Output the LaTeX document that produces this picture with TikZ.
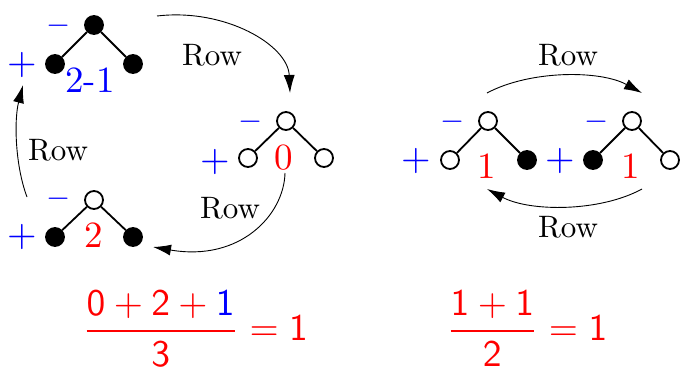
\RequirePackage{fix-cm}
\documentclass[tikz,border=0pt]{standalone}
\usetikzlibrary{arrows.meta}
\newcommand{\sbx}[2]{\scalebox{#1}{\fontsize{10}{12}\selectfont #2}}
\begin{document}
\begin{tikzpicture}[x=1pt,y=-1pt,
  vb/.style={circle,draw,fill=black,line width=1.8pt,minimum size=18pt,inner sep=0pt},
  vw/.style={circle,draw,fill=white,line width=1.8pt,minimum size=18pt,inner sep=0pt},
  edge/.style={line width=1.8pt},
  arr/.style={line width=0.9pt,-{Latex[length=18pt,width=11pt]}},
  rowlab/.style={inner sep=0pt},
  pl/.style={text=blue,inner sep=0pt},
  mi/.style={text=blue,inner sep=0pt},
  num/.style={inner sep=0pt},
  frac/.style={anchor=base west,inner sep=0pt,text=red},
]
\useasboundingbox (0,0) rectangle (681,367);

% Tree A
\node[vb] (a0) at (94,25) {};
\node[vb] (a1) at (55,64) {};
\node[vb] (a2) at (133,64) {};
\draw[edge] (a0) -- (a1);
\draw[edge] (a0) -- (a2);
\node[mi] (am) at (59,26) {\sbx{3.1}{$-$}};
\node[pl] (ap) at (22,65) {\sbx{3.8}{$+$}};
\node[num,text=blue] (av) at (90,80) {\sbx{3.7}{2-1}};

% Tree B
\node[vw] (b0) at (286,121) {};
\node[vw] (b1) at (248,158) {};
\node[vw] (b2) at (324,158) {};
\draw[edge] (b0) -- (b1);
\draw[edge] (b0) -- (b2);
\node[mi] (bm) at (251,122) {\sbx{3.1}{$-$}};
\node[pl] (bp) at (215,162) {\sbx{3.8}{$+$}};
\node[num,text=red] (bv) at (284,158) {\sbx{3.7}{0}};

% Tree C
\node[vw] (c0) at (94,200) {};
\node[vb] (c1) at (55,237) {};
\node[vb] (c2) at (133,237) {};
\draw[edge] (c0) -- (c1);
\draw[edge] (c0) -- (c2);
\node[mi] (cm) at (59,199) {\sbx{3.1}{$-$}};
\node[pl] (cp) at (22,237) {\sbx{3.8}{$+$}};
\node[num,text=red] (cv) at (94,235) {\sbx{3.7}{2}};

% Tree D
\node[vw] (d0) at (488,121) {};
\node[vw] (d1) at (450,160) {};
\node[vb] (d2) at (527,160) {};
\draw[edge] (d0) -- (d1);
\draw[edge] (d0) -- (d2);
\node[mi] (dm) at (453,122) {\sbx{3.1}{$-$}};
\node[pl] (dp) at (416,161) {\sbx{3.8}{$+$}};
\node[num,text=red] (dv) at (487,166) {\sbx{3.7}{1}};

% Tree E
\node[vw] (e0) at (632,121) {};
\node[vb] (e1) at (593,160) {};
\node[vw] (e2) at (670,160) {};
\draw[edge] (e0) -- (e1);
\draw[edge] (e0) -- (e2);
\node[mi] (em) at (597,122) {\sbx{3.1}{$-$}};
\node[pl] (ep) at (560,161) {\sbx{3.8}{$+$}};
\node[num,text=red] (ev) at (631,166) {\sbx{3.7}{1}};

% Arrows
\coordinate (s1) at (157,16);  \coordinate (t1) at (290,93);
\coordinate (s2) at (285,173); \coordinate (t2) at (153,247);
\coordinate (s3) at (27,197);  \coordinate (t3) at (23,85);
\coordinate (s4) at (487,93);  \coordinate (t4) at (642,93);
\coordinate (s5) at (642,189); \coordinate (t5) at (487,189);
\draw[arr] (s1) .. controls (225,8) and (288,45) .. (t1);
\draw[arr] (s2) .. controls (284,215) and (240,262) .. (t2);
\draw[arr] (s3) .. controls (15,165) and (14,120) .. (t3);
\draw[arr] (s4) .. controls (530,70) and (600,70) .. (t4);
\draw[arr] (s5) .. controls (600,212) and (530,212) .. (t5);
\node[rowlab] (r1) at (212,55) {\sbx{3.1}{Row}};
\node[rowlab] (r2) at (230,208) {\sbx{3.1}{Row}};
\node[rowlab] (r3) at (58,150) {\sbx{3.1}{Row}};
\node[rowlab] (r4) at (568,55) {\sbx{3.1}{Row}};
\node[rowlab] (r5) at (568,227) {\sbx{3.1}{Row}};

% Fractions
\node[frac] (f1) at (82,340.5) {\sbx{3.75}{$\displaystyle\frac{\mathsf{0}+\mathsf{2}+{\color{blue}\mathsf{1}}}{\mathsf{3}}=\mathsf{1}$}};
\node[frac] (f2) at (446,340.5) {\sbx{3.75}{$\displaystyle\frac{\mathsf{1}+\mathsf{1}}{\mathsf{2}}=\mathsf{1}$}};
\end{tikzpicture}
\end{document}
